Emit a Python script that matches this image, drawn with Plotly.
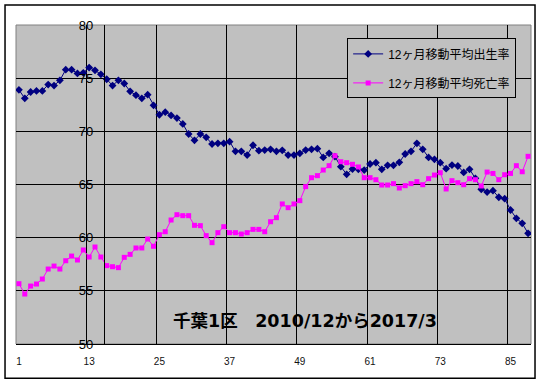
import plotly.graph_objects as go

months = list(range(1, 89))

birth_rate = [
    73.9, 73.1, 73.7, 73.8, 73.8, 74.4, 74.3, 74.8, 75.8, 75.8,
    75.45, 75.5, 76.0, 75.74, 75.36, 74.9, 74.3, 74.8, 74.5, 73.76,
    73.4, 73.1, 73.45, 72.45, 71.56, 71.8, 71.5, 71.25, 70.7, 69.75,
    69.15, 69.75, 69.44, 68.81, 68.87, 68.87, 69.03, 68.12, 68.12, 67.77,
    68.69, 68.18, 68.24, 68.31, 68.12, 68.21, 67.77, 67.77, 67.93, 68.24,
    68.31, 68.37, 67.55, 67.93, 67.62, 66.68, 65.96, 66.46, 66.43, 66.36,
    66.93, 67.05, 66.43, 66.80, 66.80, 67.09, 67.87, 68.12, 68.87, 68.31,
    67.55, 67.37, 67.05, 66.49, 66.83, 66.74, 66.14, 66.43, 65.58, 64.55,
    64.29, 64.42, 63.80, 63.67, 62.60, 61.82, 61.35, 60.41,
]

death_rate = [
    55.67, 54.70, 55.45, 55.64, 56.11, 57.05, 57.33, 57.05, 57.83, 58.27,
    57.90, 58.84, 58.18, 59.12, 58.18, 57.37, 57.27, 57.18, 58.15, 58.43,
    59.03, 59.03, 59.87, 59.19, 60.28, 60.56, 61.66, 62.16, 62.07, 62.07,
    61.16, 61.13, 60.19, 59.53, 60.47, 61.03, 60.47, 60.47, 60.34, 60.47,
    60.78, 60.78, 60.56, 61.50, 61.88, 63.17, 62.82, 63.17, 63.48, 64.80,
    65.64, 65.83, 66.36, 66.77, 67.71, 67.14, 67.05, 66.90, 66.65, 65.64,
    65.64, 65.45, 64.95, 64.95, 65.08, 64.67, 64.89, 65.08, 65.27, 64.98,
    65.55, 65.89, 66.11, 64.58, 65.36, 65.17, 64.98, 65.55, 65.45, 64.86,
    66.17, 66.04, 65.45, 65.92, 66.04, 66.77, 66.20, 67.65,
]

series_names = ["12ヶ月移動平均出生率", "12ヶ月移動平均死亡率"]
x_tick_vals = [1, 13, 25, 37, 49, 61, 73, 85]
x_grid_vals = [12.5, 24.5, 36.5, 48.5, 60.5, 72.5, 84.5]
y_tick_vals = [50, 55, 60, 65, 70, 75, 80]
y_grid_vals = [55, 60, 65, 70, 75]
title_text = "千葉1区　2010/12から2017/3"

fig = go.Figure()
fig.add_trace(go.Scatter(
    x=months, y=birth_rate, name=series_names[0], mode="lines+markers",
    line=dict(color="#000080", width=1),
    marker=dict(symbol="diamond", size=6, color="#000080"),
    legendgroup="a",
))
fig.add_trace(go.Scatter(
    x=months, y=death_rate, name=series_names[1], mode="lines+markers",
    line=dict(color="#FF00FF", width=1),
    marker=dict(symbol="square", size=5, color="#FF00FF"),
    legendgroup="b",
))

fig.update_layout(
    width=545, height=385,
    margin=dict(l=16, r=14, t=25, b=41),
    paper_bgcolor="white",
    plot_bgcolor="#C0C0C0",
    font=dict(family="Liberation Sans, Noto Sans CJK JP", color="black"),
    showlegend=True,
    legend=dict(
        x=0.643, y=0.958, xanchor="left", yanchor="top",
        bgcolor="#C0C0C0", bordercolor="black", borderwidth=1,
        font=dict(size=12, family="Liberation Sans, Noto Sans CJK JP", color="black"),
        tracegroupgap=10,
    ),
    xaxis=dict(
        range=[0.5, 88.5],
        tickmode="array", tickvals=x_tick_vals, ticktext=[str(v) for v in x_tick_vals],
        showgrid=False, zeroline=False,
        showline=True, linecolor="black", linewidth=1,
        ticks="", ticklabelstandoff=8,
        tickfont=dict(size=10, color="#111"),
        minor=dict(tickmode="array", tickvals=x_grid_vals, showgrid=True,
                   gridcolor="black", gridwidth=1, ticks=""),
    ),
    yaxis=dict(
        range=[50, 80],
        anchor="free", position=15 / 88,
        tickmode="array", tickvals=y_tick_vals,
        showgrid=False, zeroline=False,
        showline=True, linecolor="black", linewidth=1,
        ticks="", ticklabelstandoff=8,
        tickfont=dict(size=13, color="black"),
        minor=dict(tickmode="array", tickvals=y_grid_vals, showgrid=True,
                   gridcolor="black", gridwidth=1, ticks=""),
    ),
    shapes=[
        dict(type="rect", xref="paper", yref="paper", x0=0, x1=1, y0=0, y1=1,
             line=dict(color="#808080", width=1), layer="below"),
        dict(type="rect", xref="paper", yref="paper",
             x0=-0.0213, x1=1.0078, y0=-0.1075, y1=1.0627,
             line=dict(color="black", width=1.5), layer="above"),
    ],
    annotations=[
        dict(text="<b>" + title_text + "</b>", xref="paper", yref="paper",
             x=0.5616, y=0.0721, xanchor="center", yanchor="middle",
             showarrow=False,
             font=dict(size=17.5, family="DejaVu Sans, Noto Sans CJK JP", color="black")),
    ],
)

fig.write_html("out.html", config={"displayModeBar": False},
               post_script="document.body.style.margin='0';")
